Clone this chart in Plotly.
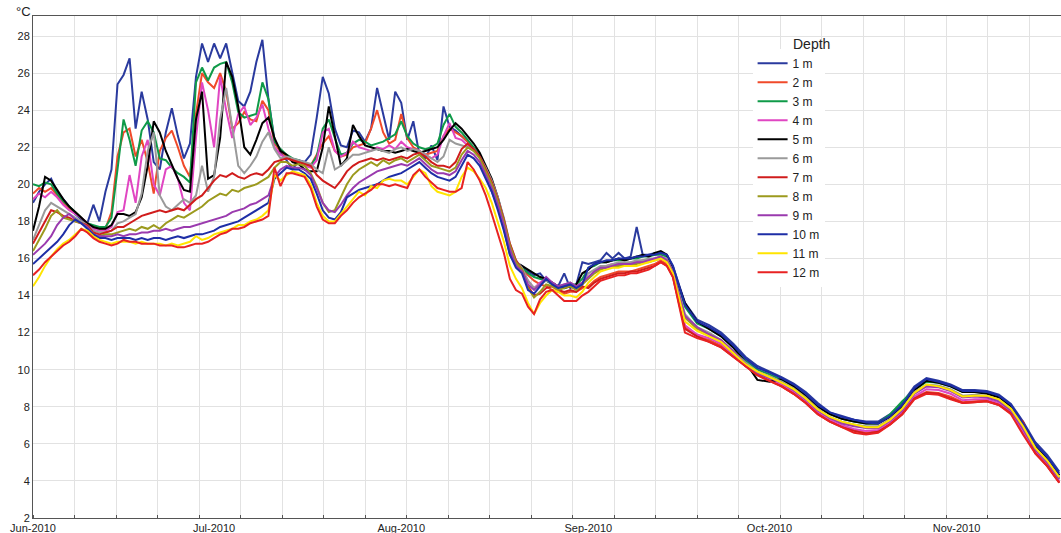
import pandas as pd
import plotly.graph_objects as go

# Time axis: daily Jun 1 - Sep 15, then every 2 days Sep 17 - Nov 18, 2010
dates = list(pd.date_range("2010-06-01", "2010-09-15", freq="D")) + \
        list(pd.date_range("2010-09-17", "2010-11-18", freq="2D"))

depth_labels = ["1 m", "2 m", "3 m", "4 m", "5 m", "6 m",
                "7 m", "8 m", "9 m", "10 m", "11 m", "12 m"]
depth_colors = ["#2a3a9e", "#f04a2a", "#0f9a48", "#e046c2", "#000000", "#9a9a9a",
                "#d01c1c", "#9c9a1e", "#9a3aae", "#1e2ea6", "#ffe400", "#e82222"]

month_ticks = ["2010-06-01", "2010-07-01", "2010-08-01", "2010-09-01", "2010-10-01", "2010-11-01"]
month_labels = ["Jun-2010", "Jul-2010", "Aug-2010", "Sep-2010", "Oct-2010", "Nov-2010"]

t_1m = [19.0, 19.6, 20.0, 20.3, 19.6, 19.2, 18.8, 18.4, 18.1, 17.9,
        18.9, 18.0, 19.6, 20.8, 25.4, 25.9, 26.8, 23.0, 25.0, 23.5,
        21.2, 20.8, 22.8, 24.1, 22.6, 21.4, 22.2, 25.8, 27.6, 26.6,
        27.6, 26.8, 27.6, 26.0, 24.5, 24.2, 25.0, 26.6, 27.8, 24.6,
        22.4, 21.7, 21.3, 20.8, 21.3, 21.2, 21.6, 23.6, 25.8, 24.9,
        23.0, 22.1, 22.0, 22.9, 22.8, 22.3, 23.0, 25.2, 23.8, 22.4,
        25.0, 24.4, 22.4, 23.4, 21.6, 21.4, 22.1, 21.3, 24.2, 23.1,
        22.9, 22.6, 22.3, 21.9, 21.6, 20.6, 19.6, 18.8, 17.6, 16.2,
        15.7, 15.6, 15.3, 15.1, 15.2, 14.8, 14.7, 14.5, 15.2, 14.4, 14.6, 15.8,
        15.7, 15.8, 15.9, 16.3, 16.0, 16.3, 16.0, 16.1, 17.7, 16.2, 16.2, 16.3, 16.3, 16.2, 15.6,
        13.6, 12.7, 12.4, 12.0, 11.4, 10.7, 10.2, 9.9, 9.6, 9.25,
        8.8, 8.2, 7.7, 7.5, 7.3, 7.2, 7.2, 7.6, 8.2, 9.1,
        9.55, 9.4, 9.2, 8.9, 8.9, 8.85, 8.65, 8.15, 7.2, 6.1, 5.4, 4.5]

t_2m = [19.5, 19.8, 19.6, 19.8, 19.4, 19.0, 18.7, 18.5, 18.2, 17.9,
        17.7, 17.6, 17.6, 18.5, 21.5, 22.8, 23.0, 21.5, 22.4, 21.2,
        19.5, 21.8, 22.5, 22.9, 22.0, 21.0, 20.4, 23.8, 26.0, 25.5,
        25.2, 26.0, 25.0, 23.0, 23.3, 23.9, 23.5, 23.4, 24.5, 24.0,
        22.2, 21.8, 21.5, 21.3, 21.2, 21.0, 21.0, 21.6, 22.2, 22.6,
        21.8, 21.5, 21.6, 22.0, 22.1, 22.2, 23.0, 24.0, 22.8, 22.2,
        22.4, 23.8, 22.5, 22.0, 21.8, 21.6, 21.7, 21.8, 22.6, 23.0,
        22.8, 22.6, 22.3, 21.9, 21.5, 20.7, 20.0, 19.1, 17.9, 16.4,
        15.6, 15.4, 15.1, 14.8, 14.6, 14.5, 14.3, 14.2, 14.1, 14.2, 14.2, 14.4,
        14.5, 14.8, 15.0, 15.1, 15.2, 15.3, 15.3, 15.3, 15.4, 15.5, 15.6, 15.7, 15.9, 15.7, 15.1,
        12.3, 11.8, 11.6, 11.3, 10.8, 10.2, 9.75, 9.45, 9.15, 8.75,
        8.25, 7.65, 7.25, 6.95, 6.75, 6.6, 6.7, 7.1, 7.65, 8.5,
        8.8, 8.75, 8.55, 8.25, 8.3, 8.35, 8.15, 7.7, 6.6, 5.55, 4.85, 3.95]

t_3m = [20.0, 19.9, 20.1, 20.0, 19.5, 19.1, 18.8, 18.5, 18.2, 17.9,
        17.8, 17.7, 17.7, 18.2, 20.8, 23.5, 22.4, 21.0, 22.9, 23.4,
        22.8, 21.4, 21.3, 20.9, 20.6, 20.4, 20.1, 25.5, 26.3, 25.6,
        26.3, 26.5, 26.6, 25.5, 23.9, 23.6, 23.7, 23.8, 25.5, 24.6,
        22.3, 21.9, 21.6, 21.4, 21.3, 21.1, 21.0, 21.5, 23.0, 23.5,
        22.5, 21.6, 21.7, 22.2, 22.4, 22.3, 22.1, 22.2, 22.3, 22.5,
        22.7, 23.4, 22.6, 22.2, 22.0, 21.9, 22.0, 22.2, 23.2, 23.8,
        23.1, 22.8, 22.4, 22.0, 21.6, 20.8, 20.1, 19.2, 18.0, 16.5,
        15.8, 15.5, 15.2, 15.0, 14.9, 14.8, 14.6, 14.5, 14.5, 14.6, 14.6, 14.9,
        15.5, 15.6, 15.8, 15.8, 15.9, 15.9, 15.9, 16.0, 16.0, 16.1, 16.1, 16.2, 16.2, 16.1, 15.4,
        13.4, 12.5, 12.2, 11.8, 11.2, 10.5, 10.0, 9.75, 9.45, 9.1,
        8.6, 8.0, 7.6, 7.35, 7.2, 7.1, 7.1, 7.6, 8.3, 8.9,
        9.35, 9.3, 9.1, 8.8, 8.8, 8.75, 8.55, 8.05, 7.0, 5.9, 5.2, 4.3]

t_4m = [19.2, 19.5, 19.3, 19.6, 19.3, 18.9, 18.6, 18.4, 18.2, 17.9,
        17.6, 17.5, 17.5, 17.7, 18.5, 18.6, 20.5, 19.0, 21.5, 22.4,
        20.0, 19.4, 20.8, 21.0, 20.3, 19.0, 18.6, 22.5, 25.5, 24.0,
        22.0, 25.8, 24.0, 22.5, 23.8, 24.2, 23.2, 23.6, 24.3, 23.0,
        22.0, 21.6, 21.4, 21.3, 21.2, 21.0, 20.9, 21.3, 22.8, 23.0,
        21.8, 21.5, 21.7, 22.3, 22.0, 21.9, 21.8, 22.0, 21.9, 22.1,
        21.9, 22.3, 22.0, 21.9, 21.8, 21.6, 21.4, 21.6, 22.6, 23.3,
        22.5, 22.4, 22.1, 21.9, 21.5, 20.8, 20.1, 19.2, 18.0, 16.6,
        15.8, 15.4, 14.8, 14.4, 14.7, 14.9, 14.7, 14.5, 14.5, 14.6, 14.4, 14.7,
        15.0, 15.3, 15.5, 15.6, 15.7, 15.7, 15.7, 15.8, 15.8, 15.9, 15.9, 16.0, 16.1, 15.9, 15.2,
        12.4, 11.9, 11.7, 11.4, 10.8, 10.2, 9.75, 9.5, 9.2, 8.8,
        8.3, 7.7, 7.3, 7.0, 6.8, 6.7, 6.75, 7.15, 7.7, 8.55,
        8.95, 8.9, 8.7, 8.35, 8.4, 8.4, 8.2, 7.7, 6.7, 5.6, 4.9, 4.0]

t_5m = [17.5, 18.8, 20.4, 20.2, 19.7, 19.2, 18.8, 18.5, 18.2, 17.9,
        17.7, 17.6, 17.6, 17.8, 18.4, 18.4, 18.3, 18.5, 19.3, 21.0,
        23.4, 22.8, 21.8, 21.0, 20.3, 19.7, 19.6, 23.5, 25.0, 20.3,
        20.5, 22.5, 26.6, 25.8, 24.2, 22.0, 21.6, 22.4, 23.3, 23.6,
        22.5, 21.8, 21.6, 21.2, 21.1, 20.8, 20.7, 20.7, 22.0, 24.2,
        22.6, 21.0, 21.4, 23.2, 22.6, 22.1, 22.0, 21.9, 21.8, 21.8,
        21.7, 21.8, 21.9, 21.8, 21.7, 21.8, 21.9, 22.0, 22.4, 22.9,
        23.3, 23.0, 22.6, 22.2, 21.7, 21.0, 20.3, 19.3, 18.1, 16.6,
        15.8, 15.6, 15.4, 15.2, 15.0, 14.9, 14.7, 14.5, 14.4, 14.5, 14.6, 15.2,
        15.4, 15.7, 15.8, 15.8, 15.9, 16.0, 15.9, 16.0, 16.1, 16.2, 16.1, 16.3, 16.4, 16.2, 15.4,
        13.6, 12.6, 12.2, 11.8, 11.2, 10.4, 9.45, 9.35, 9.5, 9.1,
        8.6, 8.0, 7.6, 7.35, 7.2, 7.1, 7.1, 7.45, 8.0, 8.9,
        9.4, 9.3, 9.1, 8.8, 8.8, 8.7, 8.5, 8.0, 7.0, 5.9, 5.2, 4.3]

t_6m = [17.0, 17.8, 18.6, 19.0, 18.8, 18.6, 18.4, 18.2, 18.0, 17.8,
        17.5, 17.4, 17.4, 17.5, 17.9, 18.0, 18.2, 18.4, 19.5, 21.8,
        22.8, 19.4, 18.8, 18.6, 18.9, 19.2, 19.0, 19.4, 21.0, 19.6,
        20.4, 23.5, 25.2, 23.0, 21.0, 20.6, 21.0, 21.5, 22.3, 22.8,
        21.9, 21.4, 21.5, 21.4, 21.3, 21.2, 21.1, 20.8, 20.6, 22.0,
        20.8, 21.0, 21.3, 21.6, 21.6, 21.7, 21.8, 21.9, 21.8, 21.7,
        21.9, 22.0, 21.8, 21.9, 21.8, 21.6, 21.4, 21.2, 21.5, 22.4,
        22.2, 22.1, 22.0, 21.8, 21.5, 20.9, 20.2, 19.3, 18.2, 16.8,
        15.9, 15.5, 14.8, 14.4, 14.6, 14.8, 14.7, 14.5, 14.6, 14.7, 14.5, 14.7,
        15.2, 15.4, 15.6, 15.6, 15.7, 15.8, 15.8, 15.8, 15.9, 15.9, 16.0, 16.0, 16.1, 16.0, 15.3,
        13.0, 12.3, 12.0, 11.6, 11.0, 10.4, 9.9, 9.65, 9.35, 9.0,
        8.5, 7.9, 7.45, 7.2, 7.05, 6.95, 6.95, 7.35, 7.9, 8.8,
        9.2, 9.15, 8.95, 8.6, 8.65, 8.6, 8.4, 7.9, 6.9, 5.8, 5.1, 4.2]

t_7m = [16.8, 17.4, 18.0, 18.6, 18.5, 18.3, 18.2, 18.0, 17.9, 17.8,
        17.4, 17.3, 17.4, 17.5, 17.7, 17.7, 17.9, 18.1, 18.3, 18.4,
        18.5, 18.6, 18.5, 18.6, 18.7, 18.6, 18.9, 19.2, 19.4, 19.8,
        20.2, 20.5, 20.4, 20.6, 20.4, 20.3, 20.5, 20.6, 20.5, 20.8,
        21.2, 21.3, 21.4, 21.3, 21.2, 21.1, 21.0, 20.5, 20.2, 20.0,
        19.8, 20.2, 20.7, 21.0, 21.2, 21.3, 21.4, 21.3, 21.4, 21.3,
        21.4, 21.5, 21.4, 21.6, 21.7, 21.5, 21.2, 21.0, 21.0, 20.9,
        21.2, 21.9, 22.2, 21.9, 21.5, 20.8, 20.1, 19.2, 18.1, 16.8,
        15.9, 15.4, 14.5, 14.0, 14.1, 14.4, 14.5, 14.3, 14.2, 14.3, 14.2, 14.5,
        14.4, 14.7, 14.9, 15.0, 15.1, 15.2, 15.2, 15.3, 15.3, 15.4, 15.5, 15.6, 15.8, 15.6, 15.0,
        12.2, 11.8, 11.5, 11.2, 10.7, 10.2, 9.7, 9.4, 9.1, 8.7,
        8.2, 7.6, 7.2, 6.9, 6.7, 6.55, 6.65, 7.05, 7.6, 8.45,
        8.75, 8.7, 8.45, 8.2, 8.25, 8.3, 8.1, 7.65, 7.2, 5.5, 4.8, 3.9]

t_8m = [16.4, 17.0, 17.6, 18.3, 18.6, 18.2, 18.1, 18.0, 17.9, 17.7,
        17.3, 17.2, 17.3, 17.3, 17.4, 17.5, 17.6, 17.5, 17.7, 17.6,
        17.8, 17.6, 17.9, 18.1, 18.3, 18.2, 18.4, 18.6, 18.8, 19.1,
        19.3, 19.5, 19.4, 19.7, 19.6, 19.8, 19.9, 20.0, 20.2, 20.4,
        20.9, 21.2, 21.2, 21.0, 21.1, 21.0, 20.6, 19.9, 19.0, 18.5,
        18.6, 19.3, 20.0, 20.5, 20.8, 21.0, 21.2, 21.0, 21.3, 21.1,
        21.3, 21.4, 21.2, 21.4, 21.6, 21.3, 21.0, 20.9, 20.8, 20.7,
        20.9, 21.6, 22.0, 21.8, 21.4, 20.7, 20.0, 19.1, 18.0, 16.7,
        15.8, 15.4, 14.4, 13.9, 14.2, 14.6, 14.5, 14.3, 14.4, 14.5, 14.3, 14.6,
        14.9, 15.2, 15.4, 15.5, 15.6, 15.6, 15.6, 15.7, 15.7, 15.8, 15.8, 15.9, 16.0, 15.9, 15.2,
        12.8, 12.2, 11.9, 11.5, 10.9, 10.3, 9.85, 9.6, 9.3, 8.95,
        8.45, 7.85, 7.4, 7.15, 7.0, 6.9, 6.9, 7.3, 7.85, 8.75,
        9.15, 9.1, 8.9, 8.55, 8.6, 8.55, 8.35, 7.85, 6.85, 5.75, 5.05, 4.15]

t_9m = [16.2, 16.5, 16.8, 17.2, 17.8, 18.2, 18.4, 18.1, 17.9, 17.7,
        17.3, 17.2, 17.2, 17.2, 17.3, 17.2, 17.3, 17.3, 17.4, 17.4,
        17.5, 17.5, 17.6, 17.5, 17.6, 17.7, 17.7, 17.8, 17.9, 18.0,
        18.1, 18.2, 18.3, 18.5, 18.6, 18.7, 18.9, 19.0, 19.2, 19.4,
        20.4, 20.8, 21.0, 20.9, 20.9, 20.8, 20.5, 19.8, 19.0, 18.6,
        18.5, 18.9, 19.4, 19.8, 20.1, 20.3, 20.5, 20.7, 20.8, 20.9,
        21.0, 21.1, 21.0, 21.2, 21.4, 21.1, 20.8, 20.6, 20.6, 20.5,
        20.7, 21.3, 21.8, 21.6, 21.2, 20.5, 19.8, 18.9, 17.8, 16.5,
        15.6, 15.3, 14.6, 14.3, 14.6, 15.0, 14.7, 14.5, 14.6, 14.7, 14.5, 14.7,
        15.0, 15.3, 15.5, 15.5, 15.6, 15.7, 15.7, 15.7, 15.8, 15.8, 15.9, 16.0, 16.1, 15.9, 15.3,
        12.9, 12.3, 11.9, 11.6, 11.0, 10.3, 9.8, 9.55, 9.3, 8.9,
        8.4, 7.8, 7.4, 7.1, 6.95, 6.85, 6.85, 7.25, 7.8, 8.7,
        9.1, 9.05, 8.85, 8.5, 8.55, 8.5, 8.3, 7.8, 6.8, 5.7, 5.0, 4.1]

t_10m = [15.7, 16.0, 16.3, 16.6, 16.9, 17.3, 17.8, 18.1, 17.9, 17.6,
         17.3, 17.1, 17.1, 17.0, 17.1, 17.1, 17.1, 17.0, 17.1, 17.0,
         17.1, 17.1, 17.0, 17.1, 17.2, 17.1, 17.2, 17.3, 17.3, 17.4,
         17.5, 17.7, 17.8, 17.9, 18.0, 18.2, 18.4, 18.6, 18.8, 19.0,
         20.3, 20.6, 20.9, 20.8, 20.8, 20.6, 20.3, 19.5, 18.6, 18.2,
         18.1, 18.5, 19.3, 19.5, 19.7, 19.8, 19.9, 20.0, 20.2, 20.4,
         20.5, 20.6, 20.8, 21.0, 21.2, 20.9, 20.6, 20.4, 20.3, 20.2,
         20.4, 21.0, 21.6, 21.4, 21.0, 20.3, 19.6, 18.6, 17.5, 16.2,
         15.5, 15.2, 14.3, 14.1, 14.5, 14.9, 14.6, 14.4, 14.5, 14.6, 14.4, 14.6,
         15.5, 15.7, 15.8, 15.9, 15.9, 16.0, 16.0, 16.0, 16.1, 16.1, 16.2, 16.2, 16.3, 16.2, 15.6,
         13.5, 12.6, 12.3, 11.9, 11.3, 10.6, 10.1, 9.85, 9.55, 9.2,
         8.7, 8.1, 7.7, 7.45, 7.3, 7.15, 7.1, 7.5, 8.1, 9.0,
         9.5, 9.35, 9.15, 8.85, 8.85, 8.8, 8.6, 8.1, 7.1, 6.0, 5.3, 4.4]

t_11m = [14.5, 15.0, 15.6, 16.1, 16.5, 16.8, 17.0, 17.3, 17.6, 17.5,
         17.2, 17.0, 16.9, 16.8, 16.9, 16.9, 16.9, 16.8, 16.9, 16.8,
         16.8, 16.8, 16.7, 16.8, 16.7, 16.8, 16.9, 17.2, 17.0, 17.1,
         17.3, 17.4, 17.5, 17.6, 17.8, 17.8, 18.0, 18.1, 18.3, 18.6,
         20.5, 20.2, 20.5, 20.7, 20.6, 20.5, 20.0, 19.0, 18.3, 18.0,
         18.0, 18.4, 18.8, 19.2, 19.6, 19.4, 19.9, 19.8, 20.2, 20.3,
         20.2, 20.2, 20.0, 20.4, 20.8, 20.6, 19.9, 19.6, 19.5, 19.4,
         19.6, 20.4, 20.9, 20.7, 20.3, 19.8, 19.0, 18.0, 16.9, 15.6,
         14.9, 14.4, 13.6, 13.0, 13.6, 14.0, 14.3, 14.2, 14.0, 14.0, 13.9, 14.2,
         14.7, 15.0, 15.3, 15.4, 15.5, 15.5, 15.6, 15.6, 15.6, 15.7, 15.8, 15.9, 16.0, 15.8, 15.2,
         12.6, 12.1, 11.8, 11.5, 10.9, 10.3, 9.9, 9.6, 9.3, 8.95,
         8.45, 7.85, 7.45, 7.2, 7.05, 6.9, 6.9, 7.3, 7.9, 8.75,
         9.2, 9.1, 8.9, 8.55, 8.6, 8.6, 8.4, 7.9, 6.95, 5.8, 5.1, 4.2]

t_12m = [15.1, 15.4, 15.8, 16.1, 16.4, 16.7, 16.9, 17.2, 17.6, 17.4,
         17.1, 16.9, 16.8, 16.7, 16.8, 17.0, 16.9, 16.9, 16.8, 16.8,
         16.8, 16.7, 16.7, 16.7, 16.6, 16.6, 16.7, 16.8, 16.8, 16.9,
         17.1, 17.3, 17.4, 17.6, 17.6, 17.7, 17.9, 18.0, 18.1, 18.3,
         20.9, 19.9, 20.6, 20.6, 20.5, 20.4, 19.8, 18.8, 18.1, 17.9,
         17.9, 18.3, 18.6, 19.0, 19.3, 19.5, 19.7, 20.0, 20.0, 19.9,
         20.0, 19.9, 19.8, 20.5, 20.8, 20.4, 20.1, 19.8, 19.7, 19.6,
         19.6, 19.8, 21.2, 20.8, 20.2, 19.4, 18.4, 17.4, 16.3, 14.9,
         14.3, 14.1, 13.4, 13.0, 13.8, 14.2, 14.3, 14.0, 13.7, 13.7, 13.7, 14.0,
         14.2, 14.5, 14.8, 14.9, 15.0, 15.1, 15.1, 15.2, 15.2, 15.3, 15.4, 15.6, 15.8, 15.6, 15.0,
         12.0, 11.7, 11.5, 11.2, 10.7, 10.2, 9.7, 9.4, 9.1, 8.7,
         8.2, 7.6, 7.2, 6.9, 6.6, 6.5, 6.6, 7.05, 7.6, 8.4,
         8.7, 8.65, 8.4, 8.2, 8.25, 8.3, 8.1, 7.6, 6.5, 5.5, 4.8, 3.9]

series = [t_1m, t_2m, t_3m, t_4m, t_5m, t_6m, t_7m, t_8m, t_9m, t_10m, t_11m, t_12m]

fig = go.Figure()
for name, vals, col in zip(depth_labels, series, depth_colors):
    assert len(vals) == len(dates), (name, len(vals), len(dates))
    fig.add_trace(go.Scatter(x=dates, y=vals, mode="lines", name=name,
                             line=dict(color=col, width=2)))

grid_col = "#e2e2e2"
axis_col = "#555555"

fig.update_layout(
    width=1061, height=533,
    margin=dict(l=33, r=0, t=16, b=15, autoexpand=False),
    paper_bgcolor="white", plot_bgcolor="white",
    font=dict(family="Liberation Sans, Arial, sans-serif", size=11, color="#222222"),
    showlegend=True,
    legend=dict(x=0.700, y=0.935, xanchor="left", yanchor="top",
                bgcolor="white", borderwidth=0,
                font=dict(size=12, color="#222222"), tracegroupgap=0),
    xaxis=dict(range=["2010-06-01", "2010-11-18 07:00"],
               tickmode="array", tickvals=month_ticks, ticktext=month_labels,
               showgrid=False, ticks="", showline=True, linecolor=axis_col,
               linewidth=1, mirror=True, zeroline=False, automargin=False,
               tickangle=0, tickfont=dict(size=11),
               minor=dict(tick0="2010-06-01", dtick=594000000, showgrid=True,
                          gridcolor=grid_col, gridwidth=1, ticks="inside",
                          ticklen=3, tickcolor=axis_col)),
    yaxis=dict(range=[2, 29.08], tick0=2, dtick=2, showgrid=True,
               gridcolor=grid_col, gridwidth=1, showline=True, linecolor=axis_col,
               linewidth=1, mirror=True, zeroline=False, automargin=False,
               ticks="", tickfont=dict(size=11)),
)

fig.add_annotation(text="°C", xref="paper", yref="paper", x=-0.009, y=1.008,
                   xanchor="center", yanchor="middle", showarrow=False,
                   font=dict(size=13, color="#222222"))
fig.add_annotation(text="Depth", xref="paper", yref="paper", x=0.757, y=0.944,
                   xanchor="center", yanchor="middle", showarrow=False,
                   font=dict(size=14, color="#222222"))

# remove the default 8px page margin so the figure sits at the window origin
fig.write_html("out.html",
               config={"displayModeBar": False},
               post_script="document.body.style.margin='0px';document.body.style.overflow='hidden';")
